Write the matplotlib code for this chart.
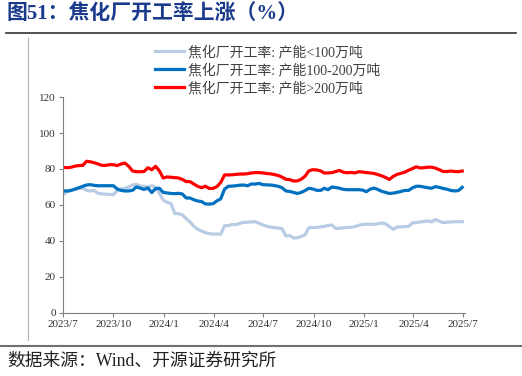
''' coke plant operating rate by capacity, weekly 2023/7 - 2025/7 '''
import pandas as pd
import matplotlib.pyplot as plt
import matplotlib.dates as mdates

plt.rcParams['font.family'] = ['Liberation Serif', 'Noto Sans CJK SC', 'DejaVu Sans']
plt.rcParams['axes.unicode_minus'] = False

# weekly dates
dates = pd.date_range('2023-07-02', periods=105, freq='7D')

# capacity > 200 wan t
big_rate = [80.9, 80.7, 81.0, 81.6, 81.9, 82.0, 84.3, 84.0, 83.5, 82.8,
            82.0, 82.0, 82.4, 82.4, 81.9, 82.8, 83.3, 81.5, 78.9, 78.5,
            78.5, 78.6, 80.7, 79.6, 81.5, 79.0, 75.0, 75.6, 75.4, 75.2,
            75.0, 74.2, 73.0, 73.0, 71.6, 70.4, 69.6, 70.4, 69.2, 69.2,
            70.2, 72.5, 76.7, 76.7, 76.8, 77.0, 77.2, 77.2, 77.4, 77.8,
            78.0, 78.0, 77.8, 77.5, 77.3, 76.9, 76.4, 75.5, 74.3, 74.1,
            73.3, 73.4, 74.3, 76.0, 79.0, 79.6, 79.5, 79.0, 77.8, 77.8,
            78.0, 78.6, 79.2, 78.2, 77.9, 78.1, 77.8, 78.5, 78.3, 78.0,
            77.8, 77.5, 76.9, 76.2, 75.3, 74.2, 75.9, 77.0, 77.6, 78.2,
            79.3, 80.2, 81.2, 80.6, 80.7, 81.0, 81.0, 80.5, 79.6, 78.6,
            78.6, 78.9, 78.6, 78.5, 78.9]

# capacity 100-200 wan t
mid_rate = [67.8, 67.8, 68.1, 68.8, 69.6, 70.4, 71.1, 71.3, 70.9, 70.7,
            70.7, 70.7, 70.7, 70.7, 68.9, 68.1, 67.8, 67.8, 68.2, 70.0,
            69.4, 68.6, 69.5, 66.9, 69.1, 69.3, 67.0, 66.7, 66.4, 66.3,
            66.5, 66.1, 63.9, 63.9, 62.9, 62.2, 61.9, 60.6, 60.5, 60.7,
            62.3, 63.4, 68.8, 70.4, 70.5, 70.7, 71.0, 71.1, 70.7, 71.7,
            71.6, 72.0, 71.3, 71.2, 71.1, 70.8, 70.4, 69.6, 67.8, 67.5,
            67.0, 66.4, 67.0, 68.0, 69.3, 68.9, 68.2, 68.0, 69.3, 68.5,
            70.0, 69.7, 69.3, 68.7, 68.5, 68.5, 68.5, 68.5, 68.3, 67.4,
            68.8, 69.4, 68.6, 67.6, 67.0, 66.4, 66.6, 67.0, 67.5, 68.1,
            68.1, 69.5, 70.4, 70.4, 70.0, 69.6, 69.3, 70.2, 69.8, 69.2,
            68.8, 68.1, 67.8, 68.0, 69.8]

# capacity < 100 wan t
small_rate = [65.9, 67.4, 68.2, 68.9, 69.2, 69.3, 68.2, 67.8, 68.0, 66.5,
              66.2, 66.0, 65.9, 65.7, 68.0, 69.0, 69.3, 70.0, 71.1, 71.5,
              70.5, 70.4, 70.0, 70.7, 70.0, 66.5, 62.7, 61.5, 60.9, 55.2,
              55.2, 54.5, 52.4, 50.5, 48.2, 46.5, 45.6, 44.6, 44.1, 43.8,
              43.9, 43.7, 48.5, 48.5, 49.2, 49.1, 49.8, 50.4, 50.4, 50.6,
              50.7, 49.8, 48.9, 48.2, 47.8, 47.4, 47.2, 46.8, 42.8, 43.0,
              41.6, 41.8, 42.5, 43.5, 47.4, 47.4, 47.6, 47.8, 48.1, 48.6,
              48.9, 47.0, 47.0, 47.3, 47.5, 47.6, 48.0, 48.7, 49.2, 49.3,
              49.3, 49.3, 49.6, 50.0, 49.6, 48.0, 46.5, 47.8, 47.8, 48.0,
              48.1, 50.0, 50.3, 50.6, 50.8, 51.1, 50.6, 51.9, 51.0, 50.2,
              50.4, 50.6, 50.7, 50.7, 50.7]

labels = ['焦化厂开工率: 产能<100万吨',
          '焦化厂开工率: 产能100-200万吨',
          '焦化厂开工率: 产能>200万吨']

tick_dates = pd.date_range('2023-07-01', '2025-07-01', freq='3MS')
tick_labels = [f'{d.year}/{d.month}' for d in tick_dates]
y_ticks = [0, 20, 40, 60, 80, 100, 120]

fig = plt.figure(figsize=(5.22, 3.76), dpi=100)
ax = fig.add_axes([0.1207, 0.1676, 0.77, 0.5744])

ax.plot(dates, small_rate, color='#B8CCE4', linewidth=2.3, label=labels[0])
ax.plot(dates, mid_rate, color='#0070C0', linewidth=2.3, label=labels[1])
ax.plot(dates, big_rate, color='#FF0000', linewidth=2.3, label=labels[2])

ax.set_ylim(0, 120)
ax.set_yticks(y_ticks)
ax.set_xlim(pd.Timestamp('2023-07-01'), pd.Timestamp('2025-07-04'))
ax.set_xticks(tick_dates)
ax.set_xticklabels(tick_labels)

for s in ['top', 'right']:
    ax.spines[s].set_visible(False)
for s in ['left', 'bottom']:
    ax.spines[s].set_color('#808080')
    ax.spines[s].set_linewidth(0.8)
ax.tick_params(axis='both', colors='#808080', labelcolor='#333333',
               labelsize=8, length=3, width=0.8, direction='out', pad=2)

leg = ax.legend(loc='upper left', bbox_to_anchor=(155 / 522, 1 - 45 / 376),
                bbox_transform=fig.transFigure, frameon=False, fontsize=10,
                handlelength=2.1, handletextpad=0.3, labelspacing=0.3,
                borderaxespad=0, borderpad=0)
for t in leg.get_texts():
    t.set_color('#404040')

# title, rules and source line
fig.text(7 / 522, 1 - 15 / 376, '图51：焦化厂开工率上涨（%）', fontsize=15,
         fontweight='bold', color='#1a3a8c', va='center', ha='left')
fig.add_artist(plt.Line2D([6 / 522, 516 / 522], [1 - 33 / 376, 1 - 33 / 376],
                          color='#333333', linewidth=1.2))
fig.add_artist(plt.Line2D([28 / 522, 28 / 522], [1 - 38 / 376, 1 - 340 / 376],
                          color='#b0b0b0', linewidth=0.8))
fig.add_artist(plt.Line2D([0, 1], [1 - 346 / 376, 1 - 346 / 376],
                          color='#707070', linewidth=1.5))
fig.text(7 / 522, 1 - 361 / 376, '数据来源：Wind、开源证券研究所', fontsize=12.8,
         color='#222222', va='center', ha='left')

plt.savefig('out.png', dpi=100)
